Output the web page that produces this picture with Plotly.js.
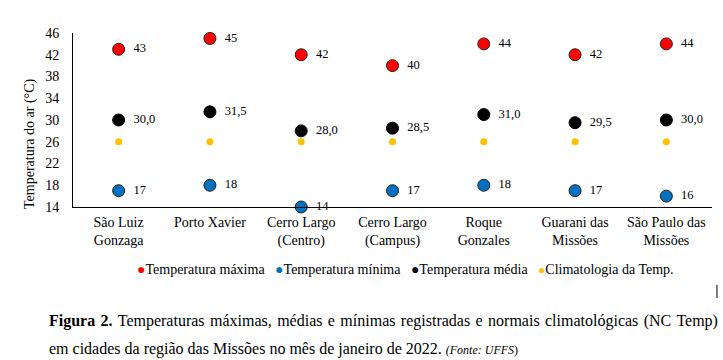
<!DOCTYPE html>
<html>
<head>
<meta charset="utf-8">
<script src="https://cdn.plot.ly/plotly-3.0.1.min.js"></script>
<style>html,body{margin:0;padding:0;background:#fff;}#chart{width:723px;height:360px;}</style>
</head>
<body>
<div id="chart"></div>
<script>
const categories = ["São Luiz<br>Gonzaga", "Porto Xavier", "Cerro Largo<br>(Centro)", "Cerro Largo<br>(Campus)", "Roque<br>Gonzales", "Guarani das<br>Missões", "São Paulo das<br>Missões"];
const tempMax = [43, 45, 42, 40, 44, 42, 44];
const tempMin = [17, 18, 14, 17, 18, 17, 16];
const tempMed = [30.0, 31.5, 28.0, 28.5, 31.0, 29.5, 30.0];
const climTemp = [26, 26, 26, 26, 26, 26, 26];
const seriesNames = ["Temperatura máxima", "Temperatura mínima", "Temperatura média", "Climatologia da Temp."];
const yTicks = [14, 18, 22, 26, 30, 34, 38, 42, 46];
const yTitle = 'Temperatura do ar (°C)';

const FONT = "Liberation Serif";
const PAD = '\u00A0\u00A0';
const SEP = '\u00A0\u00A0\u00A0';
const fmtInt = v => PAD + String(v);
const fmtDec = v => PAD + v.toFixed(1).replace('.', ',');

function mk(y, name, color, size, lineColor, labels) {
  return {
    type: 'scatter', x: categories, y: y, name: name,
    mode: labels ? 'markers+text' : 'markers',
    text: labels || undefined,
    textposition: 'middle right',
    textfont: {family: FONT, size: 12.5, color: '#000'},
    marker: {color: color, size: size, line: {color: lineColor || color, width: lineColor ? 1 : 0}},
    cliponaxis: false,
    showlegend: false,
    hoverinfo: 'skip'
  };
}

const data = [
  mk(climTemp, seriesNames[3], '#FFC000', 7, null, null),
  mk(tempMax, seriesNames[0], '#FF0000', 12, '#222', tempMax.map(fmtInt)),
  mk(tempMed, seriesNames[2], '#000000', 12, '#000', tempMed.map(fmtDec)),
  mk(tempMin, seriesNames[1], '#0070C0', 12, '#222', tempMin.map(fmtInt))
];

const legendText =
  '<span style="color:#FF0000">●</span>' + seriesNames[0] + SEP +
  '<span style="color:#0070C0">●</span>' + seriesNames[1] + SEP +
  '<span style="color:#000000">●</span>' + seriesNames[2] + SEP +
  '<span style="color:#FFC000;font-size:12px">●</span>' + seriesNames[3];

const layout = {
  width: 723, height: 360,
  margin: {l: 73, r: 11, t: 33, b: 153},
  paper_bgcolor: '#fff', plot_bgcolor: '#fff',
  font: {family: FONT, size: 14, color: '#000'},
  showlegend: false,
  xaxis: {
    type: 'category', range: [-0.5, 6.5],
    showline: true, linecolor: '#000', linewidth: 1,
    showgrid: false, zeroline: false, ticks: '',
    tickfont: {family: FONT, size: 14, color: '#000'},
    ticklabelstandoff: 2
  },
  yaxis: {
    range: [14, 46], tickvals: yTicks,
    showline: true, linecolor: '#000', linewidth: 1,
    showgrid: false, zeroline: false, ticks: '',
    tickfont: {family: FONT, size: 14, color: '#000'},
    ticklabelstandoff: 10
  },
  annotations: [
    {xref: 'paper', yref: 'paper', x: -0.0673, y: 0.368, xanchor: 'center', yanchor: 'middle',
     textangle: -90, showarrow: false, text: yTitle, font: {family: FONT, size: 14, color: '#000'}},
    {xref: 'paper', yref: 'paper', x: 0.521, y: -0.362, xanchor: 'center', yanchor: 'middle',
     showarrow: false, text: legendText, font: {family: FONT, size: 14, color: '#000'}},
    {xref: 'paper', yref: 'paper', x: -0.0407, y: -0.655, xanchor: 'left', yanchor: 'middle',
     showarrow: false, align: 'left',
     text: '<span style="word-spacing:1.4px"><b>Figura 2.</b> Temperaturas máximas, médias e mínimas registradas e normais climatológicas (NC Temp)</span>',
     font: {family: FONT, size: 16, color: '#000'}},
    {xref: 'paper', yref: 'paper', x: -0.0407, y: -0.816, xanchor: 'left', yanchor: 'middle',
     showarrow: false, align: 'left',
     text: 'em cidades da região das Missões no mês de janeiro de 2022. <span style="font-size:12px"><i>(Fonte: UFFS</i>)</span>',
     font: {family: FONT, size: 16, color: '#000'}}
  ],
  shapes: [
    {type: 'line', xref: 'paper', yref: 'paper', x0: 1.0078, x1: 1.0078, y0: -0.448, y1: -0.523,
     line: {color: '#000', width: 1}}
  ]
};

Plotly.newPlot('chart', data, layout, {displayModeBar: false, staticPlot: true});
</script>
</body>
</html>
